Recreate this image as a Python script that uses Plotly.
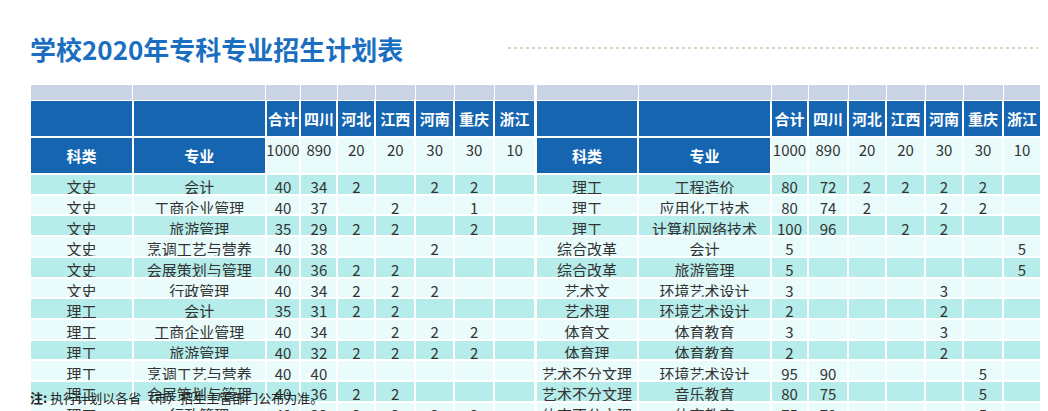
import plotly.graph_objects as go

W, H = 1048, 411
provinces = ["合计", "四川", "河北", "江西", "河南", "重庆", "浙江"]
quota = ["1000", "890", "20", "20", "30", "30", "10"]

left_type = ["文史"] * 6 + ["理工"] * 6
left_major = ["会计", "工商企业管理", "旅游管理", "烹调工艺与营养", "会展策划与管理", "行政管理",
              "会计", "工商企业管理", "旅游管理", "烹调工艺与营养", "会展策划与管理", "行政管理"]
left_vals = [
    [40, 34, 2, None, 2, 2, None],
    [40, 37, None, 2, None, 1, None],
    [35, 29, 2, 2, None, 2, None],
    [40, 38, None, None, 2, None, None],
    [40, 36, 2, 2, None, None, None],
    [40, 34, 2, 2, 2, None, None],
    [35, 31, 2, 2, None, None, None],
    [40, 34, None, 2, 2, 2, None],
    [40, 32, 2, 2, 2, 2, None],
    [40, 40, None, None, None, None, None],
    [40, 36, 2, 2, None, None, None],
    [40, 32, 2, 2, 2, 2, None],
]
right_type = ["理工", "理工", "理工", "综合改革", "综合改革", "艺术文", "艺术理", "体育文", "体育理",
              "艺术不分文理", "艺术不分文理", "体育不分文理"]
right_major = ["工程造价", "应用化工技术", "计算机网络技术", "会计", "旅游管理", "环境艺术设计",
               "环境艺术设计", "体育教育", "体育教育", "环境艺术设计", "音乐教育", "体育教育"]
right_vals = [
    [80, 72, 2, 2, 2, 2, None],
    [80, 74, 2, None, 2, 2, None],
    [100, 96, None, 2, 2, None, None],
    [5, None, None, None, None, None, 5],
    [5, None, None, None, None, None, 5],
    [3, None, None, None, 3, None, None],
    [2, None, None, None, 2, None, None],
    [3, None, None, None, 3, None, None],
    [2, None, None, None, 2, None, None],
    [95, 90, None, None, None, 5, None],
    [80, 75, None, None, None, 5, None],
    [75, 70, None, None, None, 5, None],
]

BLUE = "#1565b0"
TEAL = "#b6ecea"
LIGHT = "#e9fbfb"
TXT = "#333333"
FONT = "Noto Sans CJK SC"


def make_table(types, majors, vals, x0, x1, widths):
    n = len(types)
    cols = [["", "<b>科类</b>"] + types, ["", "<b>专业</b>"] + majors]
    for j, p in enumerate(provinces):
        cols.append([f"<b>{p}</b>", quota[j]] + ["" if r[j] is None else str(r[j]) for r in vals])
    body_fill = [TEAL if i % 2 == 0 else LIGHT for i in range(n)]
    fills, colors = [], []
    for c in range(len(cols)):
        if c < 2:
            fills.append([BLUE, BLUE] + body_fill)
            colors.append(["white", "white"] + [TXT] * n)
        else:
            fills.append([BLUE, LIGHT] + body_fill)
            colors.append(["white", TXT] + [TXT] * n)
    return go.Table(
        domain=dict(x=[x0 / W, x1 / W], y=[0, 1 - 76 / H]),
        columnwidth=widths,
        header=dict(values=[], height=0),
        cells=dict(values=cols, fill_color=fills, line=dict(color="white", width=2),
                   font=dict(family=FONT, size=15, color=colors), height=20.7, align="center"),
    )


fig = go.Figure()
fig.add_trace(make_table(left_type, left_major, left_vals, 22, 528, [103, 133, 35, 37, 38, 40, 39, 40, 41]))
fig.add_trace(make_table(right_type, right_major, right_vals, 528, 1033, [102, 133, 37, 40, 38, 39, 38, 40, 38]))

fig.add_annotation(text="<b>学校2020年专科专业招生计划表</b>", xref="paper", yref="paper",
                   x=20 / W, y=1 - 40 / H, xanchor="left", yanchor="middle", showarrow=False,
                   font=dict(family=FONT, size=26, color="#1a6fc0"))
fig.add_shape(type="line", xref="paper", yref="paper", x0=500 / W, x1=1030 / W,
              y0=1 - 40 / H, y1=1 - 40 / H, line=dict(color="#c9c9a8", width=1.5, dash="dot"))
fig.add_annotation(text="<b>注:</b> 执行计划以各省（市）招生主管部门公布为准。", xref="paper", yref="paper",
                   x=20 / W, y=1 - 389 / H, xanchor="left", yanchor="middle", showarrow=False,
                   font=dict(family=FONT, size=13, color="#222222"))

fig.update_layout(width=W, height=H, margin=dict(l=0, r=0, t=0, b=0),
                  paper_bgcolor="white", plot_bgcolor="white")
fig.write_html("out.html")
